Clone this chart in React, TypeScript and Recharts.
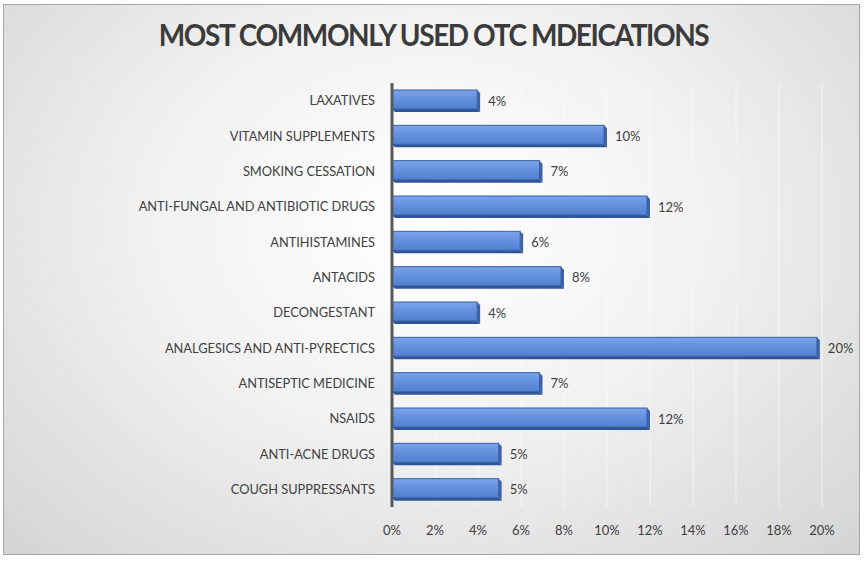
import React from 'react';
import { BarChart, Bar, XAxis, YAxis, CartesianGrid, LabelList } from 'recharts';

const medications = [
  'LAXATIVES',
  'VITAMIN SUPPLEMENTS',
  'SMOKING CESSATION',
  'ANTI-FUNGAL AND ANTIBIOTIC DRUGS',
  'ANTIHISTAMINES',
  'ANTACIDS',
  'DECONGESTANT',
  'ANALGESICS AND ANTI-PYRECTICS',
  'ANTISEPTIC MEDICINE',
  'NSAIDS',
  'ANTI-ACNE DRUGS',
  'COUGH SUPPRESSANTS',
];
const shares = [4.1, 10, 7, 12, 6.1, 8, 4.1, 19.9, 7, 12, 5.1, 5.1];
const xTicks = [0, 2, 4, 6, 8, 10, 12, 14, 16, 18, 20];

const data = medications.map((name, i) => ({ name, share: shares[i] }));

const W = 867;
const H = 561;
const FONT = 'Lato, "Liberation Sans", sans-serif';

// bar with a little depth on the bottom and right, like the excel 3d bars
const Bar3D = (props: any) => {
  const { x, y, width, height } = props;
  if (!width || width <= 0) return null;
  const d = 3;
  const fw = width - d;
  const fh = height - d;
  return (
    <g>
      <polygon
        points={`${x},${y + fh} ${x + fw},${y + fh} ${x + width},${y + height} ${x + d},${y + height}`}
        fill="#2F5597"
      />
      <polygon
        points={`${x + fw},${y} ${x + width},${y + d} ${x + width},${y + height} ${x + fw},${y + fh}`}
        fill="#3A64AE"
      />
      <rect x={x} y={y} width={fw} height={fh} fill="url(#barFace)" stroke="#3561A8" strokeWidth={1} />
    </g>
  );
};

export default function App() {
  return (
    <div style={{ position: 'absolute', left: 0, top: 0, width: W, height: H, background: '#fff' }}>
      <div
        style={{
          position: 'absolute',
          left: 3,
          top: 4,
          width: 857,
          height: 551,
          border: '1px solid #A6A6A6',
          boxSizing: 'border-box',
          background: 'radial-gradient(ellipse at 50% 40%, #FFFFFF 0%, #F2F2F2 45%, #D4D4D4 100%)',
        }}
      />
      <div
        style={{
          position: 'absolute',
          left: 0,
          top: 17,
          width: W,
          textAlign: 'center',
          fontFamily: FONT,
          fontWeight: 700,
          fontSize: 28,
          color: '#3B3B3B',
          letterSpacing: -1.4,
          transform: 'scaleY(1.08)',
        }}
      >
        MOST COMMONLY USED OTC MDEICATIONS
      </div>
      <div style={{ position: 'absolute', left: 0, top: 0 }}>
        <BarChart
          width={W}
          height={H}
          data={data}
          layout="vertical"
          margin={{ top: 83, right: 45, bottom: 22, left: 0 }}
          barCategoryGap={0}
        >
          <defs>
            <linearGradient id="barFace" x1="0" y1="0" x2="0" y2="1">
              <stop offset="0%" stopColor="#7CA3E8" />
              <stop offset="50%" stopColor="#6390DC" />
              <stop offset="100%" stopColor="#5180CF" />
            </linearGradient>
          </defs>
          <CartesianGrid horizontal={false} stroke="#FFFFFF" strokeOpacity={0.55} />
          <XAxis
            type="number"
            domain={[0, 20]}
            ticks={xTicks}
            tickFormatter={(v: number) => `${v}%`}
            axisLine={false}
            tickLine={false}
            tick={{ fill: '#404040', fontSize: 13, fontFamily: FONT }}
            tickMargin={13}
            height={32}
          />
          <YAxis
            type="category"
            dataKey="name"
            width={392}
            axisLine={{ stroke: '#595959', strokeWidth: 3 }}
            tickLine={false}
            tick={{ fill: '#404040', fontSize: 12.8, fontFamily: FONT }}
            tickMargin={11}
          />
          <Bar dataKey="share" barSize={22} shape={<Bar3D />} isAnimationActive={false}>
            <LabelList
              dataKey="share"
              position="right"
              offset={8}
              formatter={(v: any) => `${Math.round(Number(v))}%`}
              style={{ fill: '#404040', fontSize: 13, fontFamily: FONT }}
            />
          </Bar>
        </BarChart>
      </div>
    </div>
  );
}
